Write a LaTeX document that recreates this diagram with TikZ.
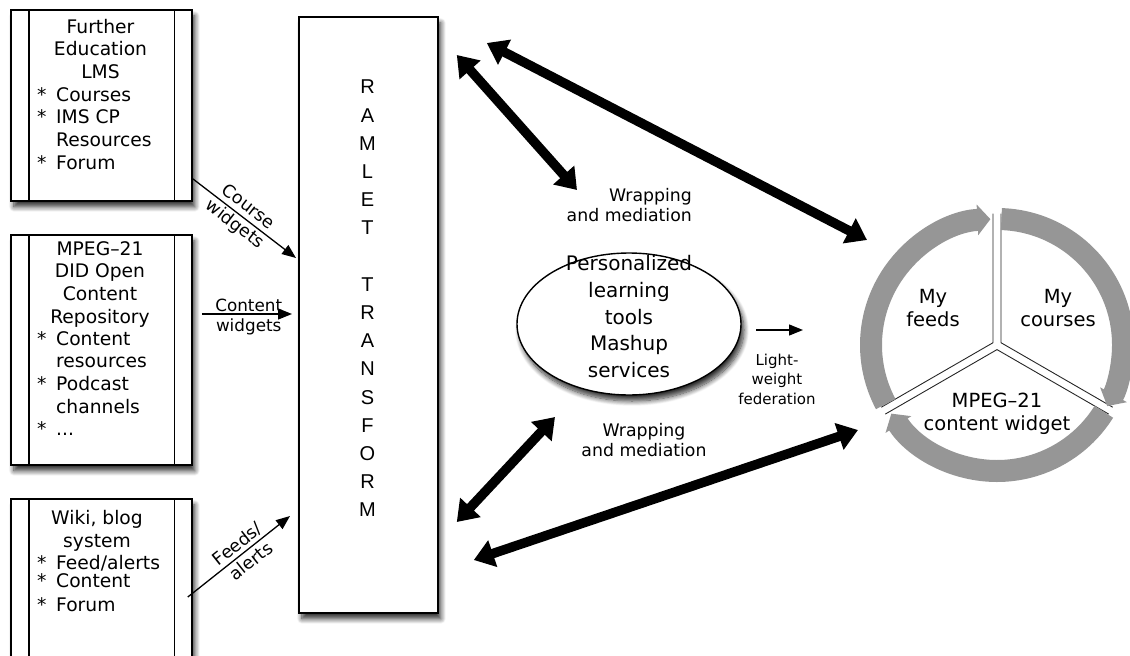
\documentclass[tikz,border=0pt]{standalone}
\usepackage{fontspec}
\setmainfont{DejaVu Sans}
\newfontfamily\lettersfont{Liberation Sans}
\usetikzlibrary{arrows.meta,shapes.geometric,shadows.blur,calc}

\definecolor{ringgray}{RGB}{150,150,150}
\newcommand\itm{\makebox[19pt][l]{*}}
\newcommand\cnt{\hspace*{19pt}}

\tikzset{
  softshadow/.style={blur shadow={shadow xshift=3pt, shadow yshift=-6pt,
      shadow blur radius=5pt, shadow blur steps=10, shadow opacity=80}},
  panel/.style={draw=black, line width=1.8pt, fill=white, inner sep=0pt,
      anchor=north west, softshadow},
  rail/.style={line width=1.3pt},
  boxtext/.style={inner sep=0pt, font=\fontsize{18.7}{22.7}\selectfont},
  title/.style={boxtext, align=center, anchor=north},
  items/.style={boxtext, align=left, anchor=north west},
  feed/.style={line width=1.3pt, -{Triangle[length=14pt, width=11pt]}},
  feedlabel/.style={inner sep=0pt, align=center, font=\fontsize{16.8}{20.5}\selectfont},
  slopedlabel/.style={inner sep=0pt, align=center, sloped, font=\fontsize{17.5}{22}\selectfont},
  mediate/.style={line width=9.5pt,
      {Triangle[length=20pt, width=27pt]}-{Triangle[length=20pt, width=27pt]}},
  smalltext/.style={inner sep=0pt, font=\fontsize{17.3}{20}\selectfont},
  ring/.style={line width=22pt, draw=ringgray,
      -{Triangle[length=13pt, width=30pt]}},
  divider/.style={line width=0.9pt, draw=black!85},
  sectortext/.style={inner sep=0pt, align=center, font=\fontsize{19.5}{23.5}\selectfont}
}

\begin{document}
\begin{tikzpicture}[x=1pt, y=-1pt]
\useasboundingbox (0,0) rectangle (1130,656);

% source systems on the left
\node[panel, minimum width=181pt, minimum height=191pt] (lms) at (10,9) {};
\node[panel, minimum width=181pt, minimum height=230pt] (repo) at (10,234) {};
\node[panel, minimum width=181pt, minimum height=170pt] (wiki) at (10,498) {};
\foreach \b in {lms,repo,wiki}{
  \draw[rail] ($(\b.north west)+(19,0)$) -- ($(\b.south west)+(19,0)$);
  \draw[rail] ($(\b.north east)+(-18,0)$) -- ($(\b.south east)+(-18,0)$);
}

\node[title] (lmst) at (100.5,18.6) {Further\\Education\\LMS};
\node[items] (lmsi) at (37,87) {\itm Courses\\\itm IMS CP\\\cnt Resources\\\itm Forum};

\node[title] (repot) at (100,241) {MPEG–21\\DID Open\\Content\\Repository};
\node[items] (repoi) at (37,331) {\itm Content\\\cnt resources\\\itm Podcast\\\cnt channels\\\itm ...};

\node[title] (wikit) at (97,510) {Wiki, blog\\system};
\node[items] (wikii) at (37,555) {\itm Feed/alerts\\[-5pt]\itm Content\\[1.3pt]\itm Forum};

% transformation layer
\node[panel, minimum width=139pt, minimum height=596pt] (ramlet) at (298,16) {};
\node[inner sep=0pt, align=center, anchor=north,
      font=\lettersfont\fontsize{20}{28.2}\selectfont] (ramlett) at (367.5,80)
  {R\\A\\M\\L\\E\\T\\[28.2pt]T\\R\\A\\N\\S\\F\\O\\R\\M};

% widgets flowing into the transformation layer
\draw[feed] ($(lms.south east)+(0,-23)$) -- ($(ramlet.north west)+(-2,242)$)
  node[slopedlabel, pos=.47] {Course\\widgets};
\draw[feed] ($(repo.north east)+(9,80)$) -- ($(ramlet.north west)+(-6,298)$)
  node[feedlabel, pos=.52, yshift=-3pt] {Content\\widgets};
\draw[feed] ($(wiki.north east)+(-5,99)$) -- ($(ramlet.north west)+(-8,500)$)
  node[slopedlabel, pos=.55] {Feeds/\\alerts};

% mashup services
\node[ellipse, draw=black, line width=1.4pt, fill=white, inner sep=0pt,
      minimum width=224pt, minimum height=142pt, softshadow] (plt) at (629,324) {};
\node[inner sep=0pt, align=center, anchor=north,
      font=\fontsize{20}{26.7}\selectfont] (pltt) at (629,255.4)
  {Personalized\\learning\\tools\\Mashup\\services};

% widget ring
\coordinate (ring) at (997,345);
\begin{scope}[shift={(ring)}, yscale=-1]
  \foreach \b/\a/\c in {150/90/210, 30/90/-30, 270/210/330}
    \draw[divider] (\b:4.6) ++(\a:129) -- (\b:4.6) -- ++(\c:129);
  \draw[ring] (208:126) arc[start angle=208, end angle=93, radius=126];
  \draw[ring] (88:126) arc[start angle=88, end angle=-29, radius=126];
  \draw[ring] (-32:126) arc[start angle=-32, end angle=-147, radius=126];
\end{scope}
\node[sectortext] (feeds) at ($(ring)+(-64,-37)$) {My\\feeds};
\node[sectortext] (courses) at ($(ring)+(61,-37)$) {My\\courses};
\node[sectortext] (mpeg) at ($(ring)+(0,69)$) {MPEG–21\\content widget};

% wrapping and mediation links
\draw[mediate] ($(ramlet.north east)+(18,39)$) -- ($(plt.center)+(-52,-134)$);
\draw[mediate] ($(ramlet.north east)+(48,27)$) -- ($(ring)+(-130,-105)$);
\draw[mediate] ($(ramlet.north east)+(18,506)$) -- ($(plt.center)+(-74,93)$);
\draw[mediate] ($(ramlet.north east)+(35,544)$) -- ($(ring)+(-139,85)$);

\node[smalltext, align=right, anchor=east] (wrap1) at (692,205) {Wrapping\\and mediation};
\node[smalltext, align=center] (wrap2) at (644,440) {Wrapping\\and mediation};

% light-weight federation
\draw[feed] ($(plt.center)+(127,6)$) -- ($(ring)+(-194,-15)$);
\node[inner sep=0pt, align=center, font=\fontsize{15}{19.5}\selectfont] (fed) at (777,379)
  {Light-\\weight\\federation};
\end{tikzpicture}
\end{document}
